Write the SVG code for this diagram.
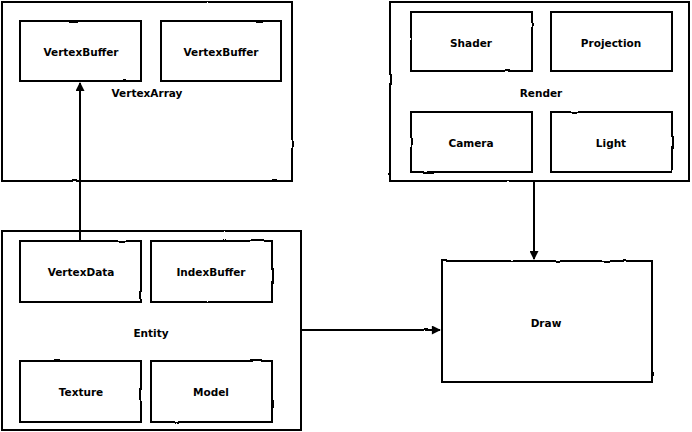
<svg xmlns="http://www.w3.org/2000/svg" width="692" height="432" viewBox="0 0 692 432">
<style>
.box{fill:#fff;stroke:#000;stroke-width:2;filter:url(#rough)}
.lbl{font-family:"DejaVu Sans","Liberation Sans",sans-serif;font-size:10.5px;font-weight:bold;fill:#000;text-anchor:middle;dominant-baseline:central}
.edge{fill:none;stroke:#000;stroke-width:2;filter:url(#rough)}
</style>
<defs>
<filter id="rough" filterUnits="userSpaceOnUse" x="0" y="0" width="692" height="432">
<feTurbulence type="fractalNoise" baseFrequency="0.06" numOctaves="1" seed="3" result="n"/>
<feDisplacementMap in="SourceGraphic" in2="n" scale="2.2" xChannelSelector="R" yChannelSelector="G"/>
</filter>
<marker id="arr" viewBox="0 0 10 10" refX="9" refY="5" markerWidth="10" markerHeight="9" orient="auto" markerUnits="userSpaceOnUse">
<path d="M0,0 L10,5 L0,10 Z" fill="#000"/>
</marker>
</defs>
<rect width="692" height="432" fill="#fff"/>
<g id="vertexarray">
<rect class="box" x="2" y="2" width="290" height="179"/>
<text class="lbl" x="147" y="93">VertexArray</text>
</g>
<g id="vertexbuffer1">
<rect class="box" x="20" y="21" width="121" height="60"/>
<text class="lbl" x="81" y="52">VertexBuffer</text>
</g>
<g id="vertexbuffer2">
<rect class="box" x="161" y="21" width="120" height="60"/>
<text class="lbl" x="221" y="52">VertexBuffer</text>
</g>
<g id="render">
<rect class="box" x="390" y="2" width="299" height="179"/>
<text class="lbl" x="541" y="93">Render</text>
</g>
<g id="shader">
<rect class="box" x="411" y="12" width="121" height="59"/>
<text class="lbl" x="471" y="43">Shader</text>
</g>
<g id="projection">
<rect class="box" x="551" y="12" width="121" height="59"/>
<text class="lbl" x="611" y="43">Projection</text>
</g>
<g id="camera">
<rect class="box" x="411" y="112" width="121" height="60"/>
<text class="lbl" x="471" y="143">Camera</text>
</g>
<g id="light">
<rect class="box" x="551" y="112" width="121" height="60"/>
<text class="lbl" x="611" y="143">Light</text>
</g>
<g id="entity">
<rect class="box" x="2" y="231" width="299" height="199"/>
<text class="lbl" x="151" y="333">Entity</text>
</g>
<g id="vertexdata">
<rect class="box" x="20" y="241" width="121" height="61"/>
<text class="lbl" x="81" y="272">VertexData</text>
</g>
<g id="indexbuffer">
<rect class="box" x="151" y="241" width="121" height="61"/>
<text class="lbl" x="211" y="272">IndexBuffer</text>
</g>
<g id="texture">
<rect class="box" x="20" y="361" width="121" height="61"/>
<text class="lbl" x="81" y="392">Texture</text>
</g>
<g id="model">
<rect class="box" x="151" y="361" width="121" height="61"/>
<text class="lbl" x="211" y="392">Model</text>
</g>
<g id="draw">
<rect class="box" x="442" y="261" width="210" height="121"/>
<text class="lbl" x="546" y="323">Draw</text>
</g>
<g id="connectors">
<path class="edge" d="M80,241 L80,83" marker-end="url(#arr)"/>
<path class="edge" d="M534,181 L534,259" marker-end="url(#arr)"/>
<path class="edge" d="M302,330 L440,330" marker-end="url(#arr)"/>
</g>
</svg>
